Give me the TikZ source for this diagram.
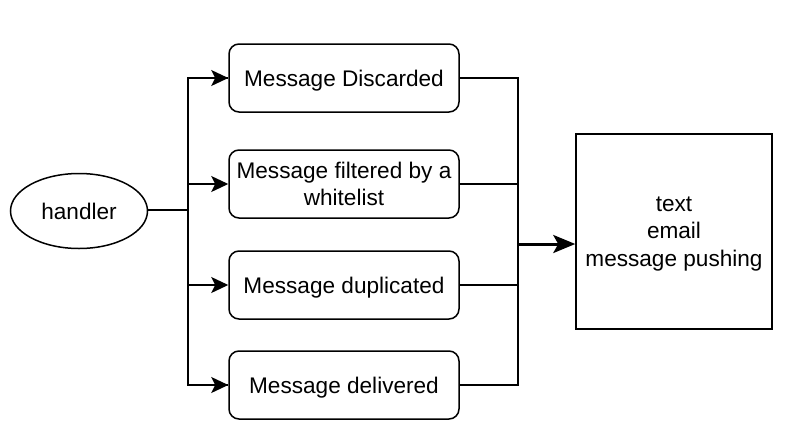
\documentclass[tikz,border=0pt]{standalone}
\usepackage{fontspec}
\setmainfont{Liberation Sans}
\usetikzlibrary{arrows.meta,shapes.geometric}
\begin{document}
\begin{tikzpicture}[x=1pt,y=-1pt,
  lbl/.style={font=\fontsize{22.6}{26.5}\selectfont, align=center},
  msgbox/.style={lbl, draw, line width=1.5pt, rounded corners=10pt, minimum width=230pt, minimum height=68pt, inner sep=0pt, text depth=0pt},
  wire/.style={line width=1.5pt},
  arrowtip/.style={-{Stealth[length=17pt,width=16pt,inset=4pt]}}
]
\useasboundingbox (0,0) rectangle (797,442);
\node[lbl, draw, ellipse, line width=1.5pt, minimum width=137pt, minimum height=75pt, inner sep=0pt] (handler) at (79,211) {handler};
\node[msgbox] (b1) at (344,78) {Message Discarded};
\node[msgbox] (b2) at (344,184) {Message filtered by a\\whitelist};
\node[msgbox] (b3) at (344,285) {Message duplicated};
\node[msgbox] (b4) at (344,385) {Message delivered};
\node[lbl, font=\fontsize{22.6}{27.5}\selectfont, draw, line width=1.5pt, minimum width=196pt, minimum height=195pt, inner sep=0pt, text depth=0pt] (out) at (674,231.5) {text\\email\\message pushing};
\coordinate (lj) at (188,210);
\coordinate (rj) at (518,244);
\draw[wire] (handler.east |- lj) -- (lj);
\draw[wire] (lj) |- (b1.west);
\draw[wire] (lj) |- (b4.west);
\foreach \b in {b1,b2,b3,b4} {
  \draw[wire,arrowtip] (lj |- \b.west) -- (\b.west);
}
\draw[wire] (b1.east) -| (rj |- b4.east) -- (b4.east);
\draw[wire] (b2.east) -- (rj |- b2.east);
\draw[wire] (b3.east) -- (rj |- b3.east);
\draw[line width=3pt,-{Stealth[length=22pt,width=18pt,inset=5pt]}] (rj) -- (rj -| out.west);
\end{tikzpicture}
\end{document}
